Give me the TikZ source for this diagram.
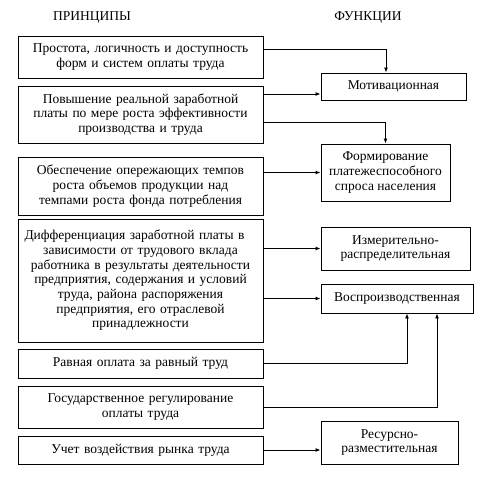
\documentclass[tikz,border=0pt]{standalone}
\usepackage{fontspec}
\setmainfont{Liberation Serif}
\usetikzlibrary{arrows.meta,calc}
\begin{document}
\begin{tikzpicture}[x=1pt,y=-1pt,
  box/.style={draw,line width=0.9pt,inner sep=1pt,align=center,font=\fontsize{13.5}{14.7}\selectfont},
  pbox/.style={box,minimum width=245pt,text width=243pt},
  arr/.style={line width=0.9pt,-{Latex[length=5pt,width=4pt]}},
  ttl/.style={font=\fontsize{13.5}{14.7}\selectfont}]
\useasboundingbox (0,0) rectangle (479,483);
\node[ttl] (tp) at (92,18) {ПРИНЦИПЫ};
\node[ttl] (tf) at (368,18) {ФУНКЦИИ};
\node[pbox,minimum height=42pt] (b1) at (140.5,57) {Простота, логичность и доступность\\форм и систем оплаты труда};
\node[pbox,minimum height=57pt] (b2) at (140.5,114.5) {Повышение реальной заработной\\платы по мере роста эффективности\\производства и труда};
\node[pbox,minimum height=58pt] (b3) at (140.5,186) {Обеспечение опережающих темпов\\роста объемов продукции над\\темпами роста фонда потребления};
\node[pbox,minimum height=123pt] (b4) at (140.5,280.5) {\hspace*{-12pt}Дифференциация заработной платы в\\зависимости от трудового вклада\\работника в результаты деятельности\\предприятия, содержания и условий\\труда, района распоряжения\\предприятия, его отраслевой\\принадлежности};
\node[pbox,minimum height=29pt] (b5) at (140.5,363.5) {Равная оплата за равный труд};
\node[pbox,minimum height=42pt] (b6) at (140.5,407) {Государственное регулирование\\оплаты труда};
\node[pbox,minimum height=28pt] (b7) at (140.5,450) {Учет воздействия рынка труда};
\node[box,minimum width=145pt,minimum height=27pt] (m) at (393.5,86.5) {Мотивационная};
\node[box,minimum width=129pt,minimum height=57pt] (f) at (385.5,172.5) {Формирование\\платежеспособного\\спроса населения};
\node[box,minimum width=149pt,minimum height=43pt] (iz) at (395.5,248.5) {Измерительно-\\распределительная};
\node[box,minimum width=152pt,minimum height=29pt] (v) at (397,298.5) {Воспроизводственная};
\node[box,minimum width=137pt,minimum height=43pt] (r) at (389.5,442.5) {Ресурсно-\\разместительная};
\draw[arr] ([yshift=8pt]b1.east) -| ([xshift=-7.5pt]m.north);
\draw[arr] ([yshift=-7.5pt]m.west -| b2.east) -- ([yshift=-7.5pt]m.west);
\draw[arr] ([yshift=-7.5pt]b2.east) -| (f.north);
\draw[arr] (f.west -| b3.east) -- (f.west);
\draw[arr] (iz.west -| b4.east) -- (iz.west);
\draw[arr] (v.west -| b4.east) -- (v.west);
\draw[arr] (b5.east) -| ([xshift=10pt]v.south);
\draw[arr] (b6.east) -| ([xshift=40pt]v.south);
\draw[arr] (b7.east) -- (b7.east -| r.west);
\end{tikzpicture}
\end{document}
